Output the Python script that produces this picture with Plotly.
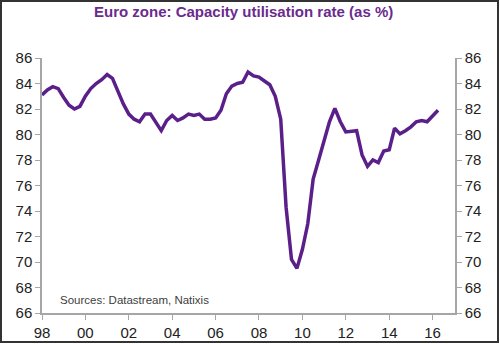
import plotly.graph_objects as go
import pandas as pd

# Quarterly euro zone capacity utilisation rate (%), 1998Q1 - 2016Q2
dates = pd.date_range("1998-01-01", "2016-04-01", freq="QS").strftime("%Y-%m-%d").tolist()
values = [
    83.1, 83.5, 83.75, 83.6,   # 1998
    82.9, 82.3, 82.0, 82.2,    # 1999
    83.0, 83.6, 84.0, 84.3,    # 2000
    84.7, 84.4, 83.4, 82.4,    # 2001
    81.6, 81.2, 81.0, 81.6,    # 2002
    81.6, 81.0, 80.3, 81.1,    # 2003
    81.5, 81.1, 81.3, 81.6,    # 2004
    81.5, 81.6, 81.2, 81.2,    # 2005
    81.3, 81.9, 83.2, 83.8,    # 2006
    84.0, 84.1, 84.9, 84.6,    # 2007
    84.5, 84.2, 83.9, 83.0,    # 2008
    81.2, 74.3, 70.2, 69.5,    # 2009
    71.0, 73.0, 76.5, 78.0,    # 2010
    79.5, 81.0, 82.05, 81.0,   # 2011
    80.2, 80.25, 80.3, 78.4,   # 2012
    77.5, 78.0, 77.8, 78.7,    # 2013
    78.8, 80.5, 80.05, 80.3,   # 2014
    80.6, 81.0, 81.1, 81.0,    # 2015
    81.5, 81.9,                # 2016
]

title_text = "Euro zone: Capacity utilisation rate (as %)"
source_text = "Sources: Datastream, Natixis"
y_ticks = list(range(66, 87, 2))
x_tick_vals = [f"{y}-01-01" for y in range(1998, 2017, 2)]
x_tick_text = ["98", "00", "02", "04", "06", "08", "10", "12", "14", "16"]

W, H = 500, 344
L, R, T, B = 42, 45, 58, 31
pw, ph = W - L - R, H - T - B


def px_x(p):
    return (p - L) / pw


def px_y(p):
    return (H - B - p) / ph


line_color = "#5B1F8A"
axis_color = "#A6A6A6"
font_fam = "Liberation Sans, Arial, sans-serif"

fig = go.Figure()
fig.add_trace(go.Scatter(x=dates, y=values, mode="lines",
                         line=dict(color=line_color, width=3.5),
                         hoverinfo="skip", showlegend=False))
fig.add_trace(go.Scatter(x=dates, y=values, mode="lines", yaxis="y2",
                         line=dict(color="rgba(0,0,0,0)", width=0),
                         hoverinfo="skip", showlegend=False))

yax = dict(range=[66, 86], tickvals=y_ticks, ticks="outside", ticklen=5,
           tickcolor=axis_color, showline=True, linecolor=axis_color, linewidth=1.5,
           showgrid=False, zeroline=False, automargin=False,
           tickfont=dict(family=font_fam, size=15, color="#222222"))

fig.update_layout(
    width=W, height=H,
    margin=dict(l=L, r=R, t=T, b=B, autoexpand=False),
    paper_bgcolor="white", plot_bgcolor="white",
    xaxis=dict(type="date", range=["1998-01-01", "2017-01-12"],
               tickvals=x_tick_vals, ticktext=x_tick_text,
               ticks="outside", ticklen=5, tickcolor=axis_color,
               showline=True, linecolor=axis_color, linewidth=1.5,
               showgrid=False, zeroline=False, automargin=False,
               tickfont=dict(family=font_fam, size=15, color="#222222")),
    yaxis=dict(**yax, side="left"),
    yaxis2=dict(**yax, side="right", overlaying="y"),
    annotations=[
        dict(text="<b>" + title_text + "</b>", xref="paper", yref="paper",
             x=px_x(243), y=px_y(12), xanchor="center", yanchor="middle",
             showarrow=False, font=dict(family=font_fam, size=15, color="#6B2A8E")),
        dict(text=source_text, xref="paper", yref="paper",
             x=px_x(58), y=px_y(300), xanchor="left", yanchor="middle",
             showarrow=False, font=dict(family=font_fam, size=11.5, color="#404040")),
    ],
    shapes=[
        dict(type="rect", xref="paper", yref="paper",
             x0=px_x(1), x1=px_x(498), y0=px_y(342), y1=px_y(1),
             line=dict(color="#333333", width=2), fillcolor="rgba(0,0,0,0)"),
    ],
)

fig.write_html("out.html")
